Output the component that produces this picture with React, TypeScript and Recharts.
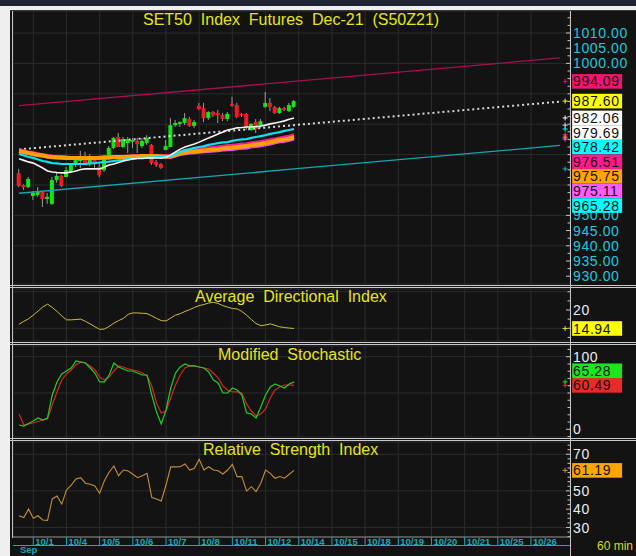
import React from 'react';
import { ComposedChart, Bar, Line, XAxis, YAxis, CartesianGrid, ReferenceDot } from 'recharts';

// ---------------- data ----------------
const dayLabels = ['10/1', '10/4', '10/5', '10/6', '10/7', '10/8', '10/11', '10/12', '10/14', '10/15', '10/18', '10/19', '10/20', '10/21', '10/25', '10/26'];
const monthLabel = 'Sep';
const intervalLabel = '60 min';
const mainTitle = 'SET50  Index  Futures  Dec-21  (S50Z21)';
const adxTitle = 'Average  Directional  Index';
const stochTitle = 'Modified  Stochastic';
const rsiTitle = 'Relative  Strength  Index';

const openP = [963.9, 960.0, 959.3, 956.4, 956.7, 957.7, 955.4, 953.8, 961.6, 963.0, 962.6, 964.3, 966.6, 967.9, 968.9, 967.2, 968.2, 966.0, 964.9, 969.2, 972.2, 975.8, 972.5, 973.8, 974.2, 974.5, 972.8, 973.8, 973.2, 967.6, 966.9, 971.5, 972.5, 979.7, 980.1, 980.4, 981.7, 979.4, 986.0, 985.3, 982.0, 984.0, 983.7, 983.0, 981.7, 986.7, 986.3, 983.4, 983.4, 978.1, 980.7, 979.7, 985.7, 987.0, 985.7, 983.7, 985.3, 984.3, 985.7];
const highP = [965.3, 960.2, 962.6, 958.0, 959.3, 958.0, 957.4, 962.6, 964.0, 963.3, 965.9, 967.2, 969.5, 971.2, 970.9, 970.2, 969.5, 967.2, 969.9, 972.8, 975.8, 977.1, 975.8, 975.8, 975.5, 975.5, 975.5, 976.4, 973.5, 968.2, 967.2, 974.8, 982.0, 981.4, 981.0, 983.7, 982.4, 981.4, 987.0, 987.0, 984.3, 984.3, 984.7, 983.7, 984.0, 989.0, 987.0, 983.7, 983.7, 980.4, 981.7, 981.7, 990.6, 988.6, 986.0, 985.7, 985.7, 987.0, 988.0];
const lowP = [959.3, 958.4, 959.0, 955.1, 956.1, 952.8, 953.8, 953.4, 960.7, 959.3, 962.6, 964.0, 965.9, 965.6, 966.6, 966.2, 965.6, 962.6, 964.3, 968.2, 971.8, 972.5, 972.2, 970.5, 972.2, 970.5, 972.2, 973.2, 966.6, 965.9, 965.3, 971.5, 972.5, 979.1, 979.1, 979.7, 979.1, 978.8, 984.7, 980.7, 981.4, 982.4, 980.4, 981.0, 981.0, 985.7, 982.0, 982.4, 978.1, 977.8, 977.1, 978.8, 985.3, 984.3, 983.4, 983.4, 984.3, 984.0, 985.3];
const closeP = [959.7, 959.3, 962.0, 957.4, 957.7, 955.4, 956.1, 961.6, 963.0, 959.7, 964.9, 966.6, 968.2, 969.2, 967.2, 968.5, 966.9, 963.3, 969.2, 972.2, 975.5, 972.5, 975.1, 975.1, 974.8, 973.5, 974.5, 975.5, 967.2, 966.6, 965.6, 972.8, 979.7, 980.4, 980.7, 982.0, 979.4, 980.7, 985.0, 982.0, 984.0, 983.0, 983.0, 981.7, 983.4, 986.0, 982.4, 983.0, 979.1, 980.1, 978.4, 981.0, 987.0, 985.7, 983.7, 985.3, 984.7, 986.3, 987.6];

const maWhite = [968.6, 968.1, 967.6, 967.2, 966.4, 965.6, 964.6, 964.3, 964.1, 964.0, 964.0, 964.3, 964.6, 965.1, 965.3, 965.3, 965.3, 965.3, 965.9, 966.6, 966.9, 967.4, 967.9, 968.2, 968.6, 968.7, 968.7, 968.9, 968.9, 968.9, 968.9, 969.1, 969.9, 970.9, 971.8, 972.5, 973.0, 973.5, 974.1, 974.8, 975.5, 976.1, 976.8, 977.4, 978.1, 978.4, 978.8, 978.9, 979.1, 979.1, 979.2, 979.4, 979.7, 980.1, 980.4, 980.7, 981.1, 981.6, 982.06];
const maCyan = [970.2, 969.7, 969.2, 968.9, 968.4, 967.9, 967.6, 967.2, 967.1, 966.9, 966.9, 966.9, 966.9, 966.9, 966.9, 967.1, 967.2, 967.4, 967.6, 967.7, 967.9, 968.1, 968.2, 968.6, 968.7, 968.9, 968.9, 969.0, 969.0, 969.2, 969.2, 969.2, 969.5, 970.2, 970.9, 971.5, 971.8, 972.2, 972.5, 972.8, 973.2, 973.5, 973.8, 974.0, 974.1, 974.5, 974.8, 975.0, 975.1, 975.5, 975.8, 976.1, 976.4, 976.8, 977.1, 977.4, 977.8, 978.1, 978.42];
const maPink = [971.5, 971.2, 970.8, 970.5, 970.2, 969.9, 969.6, 969.4, 969.3, 969.2, 969.1, 969.0, 969.0, 969.0, 969.0, 969.0, 969.0, 969.05, 969.1, 969.2, 969.3, 969.3, 969.3, 969.4, 969.5, 969.5, 969.6, 969.6, 969.6, 969.6, 969.5, 969.5, 969.7, 970.3, 970.8, 971.2, 971.4, 971.6, 971.8, 972.0, 972.2, 972.4, 972.5, 972.7, 972.9, 973.0, 973.2, 973.4, 973.5, 973.8, 974.0, 974.2, 974.5, 974.8, 975.1, 975.4, 975.7, 976.0, 976.51];
const maOrange = [971.2, 970.9, 970.5, 970.2, 969.9, 969.7, 969.4, 969.2, 969.1, 969.05, 968.95, 968.9, 968.9, 968.9, 968.9, 968.9, 968.9, 968.95, 969.05, 969.1, 969.2, 969.2, 969.2, 969.3, 969.4, 969.4, 969.5, 969.5, 969.5, 969.5, 969.4, 969.3, 969.4, 969.9, 970.4, 970.7, 970.9, 971.0, 971.2, 971.35, 971.5, 971.7, 971.8, 972.0, 972.2, 972.3, 972.5, 972.7, 972.8, 973.2, 973.3, 973.5, 973.8, 974.1, 974.5, 974.8, 975.0, 975.3, 975.75];
const maViolet = [970.9, 970.6, 970.3, 970.0, 969.7, 969.5, 969.2, 969.0, 968.9, 968.8, 968.7, 968.7, 968.7, 968.7, 968.7, 968.7, 968.7, 968.75, 968.8, 968.9, 969.0, 969.0, 969.0, 969.1, 969.2, 969.2, 969.3, 969.3, 969.3, 969.3, 969.2, 969.1, 969.1, 969.5, 970.0, 970.3, 970.5, 970.6, 970.8, 970.9, 971.0, 971.2, 971.3, 971.5, 971.6, 971.7, 971.9, 972.1, 972.2, 972.6, 972.7, 972.9, 973.2, 973.5, 973.9, 974.2, 974.4, 974.7, 975.11];

// regression channel: first bar, last bar, extension end
const channelBars = [0, 58, 114.1];
const channelUpper = [986.1, 994.09, 1001.82];
const channelMid = [971.7, 979.69, 987.42];
const channelLower = [957.29, 965.28, 973.01];

const adx = [16.1, 16.9, 17.6, 18.6, 19.7, 20.8, 21.6, 20.7, 19.6, 18.4, 17.3, 17.3, 17.4, 17.5, 16.9, 16.2, 15.4, 14.7, 14.8, 15.5, 16.4, 17.1, 17.7, 18.8, 19.2, 19.2, 19.1, 19.0, 18.4, 17.7, 17.1, 17.0, 17.8, 18.6, 19.0, 19.6, 20.1, 20.7, 21.2, 21.5, 21.9, 22.1, 21.8, 21.2, 20.8, 20.4, 20.3, 19.6, 18.6, 17.4, 16.3, 15.7, 15.9, 16.2, 15.8, 15.4, 15.2, 15.05, 14.94];
const stochK = [5.9, 4.5, 8.0, 11.4, 15.6, 12.8, 15.6, 47.2, 65.2, 76.2, 80.3, 84.4, 94.1, 92.7, 91.3, 84.4, 77.5, 65.2, 65.2, 74.8, 91.3, 85.8, 83.1, 80.3, 80.3, 77.5, 74.8, 74.8, 47.2, 23.8, 7.3, 26.6, 56.9, 77.5, 85.8, 89.9, 87.2, 87.2, 85.8, 84.4, 78.9, 67.9, 63.8, 50.0, 50.0, 56.9, 54.1, 47.2, 22.5, 21.1, 15.6, 30.7, 47.2, 58.3, 62.4, 59.6, 56.9, 62.4, 65.28];
const stochD = [21.1, 5.9, 7.3, 8.7, 10.7, 12.8, 14.2, 33.5, 51.4, 67.9, 76.2, 81.7, 88.6, 92.7, 91.3, 87.2, 81.7, 72.0, 67.9, 72.0, 80.3, 87.2, 85.8, 83.1, 81.7, 80.3, 77.5, 73.4, 59.6, 36.2, 22.5, 25.2, 43.1, 61.0, 74.8, 84.4, 87.2, 87.2, 85.8, 84.4, 83.1, 77.5, 70.7, 59.6, 54.1, 51.4, 51.4, 50.0, 34.9, 25.2, 18.3, 21.1, 28.0, 43.1, 54.1, 58.3, 61.0, 61.0, 60.49];
const rsi = [36.4, 35.4, 40.1, 35.0, 36.4, 34.1, 33.9, 45.6, 47.2, 42.8, 50.5, 53.2, 56.5, 57.2, 54.2, 53.6, 52.7, 48.7, 55.6, 60.2, 63.6, 58.3, 61.4, 60.9, 59.1, 57.2, 58.3, 59.6, 46.3, 45.6, 44.5, 53.2, 63.1, 63.1, 63.2, 64.7, 61.4, 62.3, 67.3, 61.4, 63.2, 61.4, 61.0, 59.2, 61.4, 64.5, 57.8, 57.8, 49.9, 52.3, 49.6, 54.2, 61.4, 59.6, 56.9, 57.8, 56.9, 59.1, 61.19];

const mainTickLabels = [1010, 1005, 1000, 995, 990, 985, 980, 975, 970, 965, 960, 955, 950, 945, 940, 935, 930];
const adxTickLabels = [20, 15];
const stochTickLabels = [100, 50, 0];
const rsiTickLabels = [70, 60, 50, 40, 30];

// ---------------- layout ----------------
const W = 636;
const H = 556;
const FONT = '"Liberation Sans", Arial, Helvetica, sans-serif';
const CYAN_TXT = '#1ec8dc';
const TEAL = '#1ea8b2';
const YEL = '#e6e614';
const X_DOMAIN: [number, number] = [-1.28, 116.23];
const BARS_PER_DAY = 7;
const FIRST_DAY_BAR = 3;
const dayTicks = dayLabels.map((_, k) => FIRST_DAY_BAR + BARS_PER_DAY * k);
const MARKER_X = 115.2;
const CHART_W = 626;
const AXIS_W = 66;
const BOX_H = 14.6;

const MAIN_DOMAIN: [number, number] = [927.43, 1017.24];
const ADX_DOMAIN: [number, number] = [11.52, 25.74];
const STOCH_DOMAIN: [number, number] = [-10.6, 114.7];
const RSI_DOMAIN: [number, number] = [24.8, 76.7];
const MAIN_PLOT_H = 273;
const ADX_PLOT_H = 52;
const STOCH_PLOT_H = 91;
const RSI_PLOT_H = 95;

const steps = (a: number, b: number, s: number) => {
  const out: number[] = [];
  for (let v = a; v <= b + 1e-9; v += s) out.push(Math.round(v * 100) / 100);
  return out;
};
const mainMinor = steps(930, 1015, 2.5);
const mainGrid = steps(930, 1010, 10);
const adxMinor = steps(12.5, 25, 2.5);
const adxGrid = [15, 20, 25];
const stochMinor = steps(-10, 110, 10);
const stochGrid = [0, 50, 100];
const rsiMinor = steps(25, 75, 2.5);
const rsiGrid = [30, 40, 50, 60, 70];

const rows = closeP.map((c, i) => ({
  i,
  o: openP[i],
  hi: highP[i],
  lo: lowP[i],
  c,
  range: [lowP[i], highP[i]],
  maW: maWhite[i],
  maC: maCyan[i],
  maP: maPink[i],
  maO: maOrange[i],
  maV: maViolet[i],
  adx: adx[i],
  k: stochK[i],
  d: stochD[i],
  rsi: rsi[i],
}));
const channelRows = channelBars.map((b, j) => ({ i: b, up: channelUpper[j], mid: channelMid[j], lo: channelLower[j] }));

type Lab = { v: number; bg: string; mark: string; off?: number };
const ppuOf = (d: [number, number], h: number) => h / (d[1] - d[0]);
const stack = (items: Lab[], ppu: number, dir: 'down' | 'up') => {
  const gapV = BOX_H / ppu;
  const sorted = [...items].sort((a, b) => (dir === 'down' ? b.v - a.v : a.v - b.v));
  let prev: number | null = null;
  return sorted.map((it) => {
    let placed = it.v;
    if (prev !== null) placed = dir === 'down' ? Math.min(it.v, prev - gapV) : Math.max(it.v, prev + gapV);
    prev = placed;
    return { ...it, off: (it.v - placed) * ppu };
  });
};
// tick labels that sit under a value box are not drawn (they are covered in the original)
const uncovered = (labels: number[], boxes: Lab[], ppu: number) =>
  labels.filter((l) => boxes.every((b) => Math.abs((b.v - l) * ppu - (b.off || 0)) >= BOX_H / 2 + 2.5));

const last = (a: number[]) => a[a.length - 1];
const mainLabels = stack(
  [
    { v: channelUpper[1], bg: '#f0146e', mark: '#d0106a' },
    { v: last(closeP), bg: '#ffff00', mark: '#ffff00' },
    { v: last(maWhite), bg: '#ffffff', mark: '#ffffff' },
    { v: channelMid[1], bg: '#ffffff', mark: '#dddddd' },
    { v: last(maCyan), bg: '#00ffff', mark: '#00ffff' },
    { v: last(maPink), bg: '#ff1a8c', mark: '#ff1a8c' },
    { v: last(maOrange), bg: '#ffa500', mark: '#ffa500' },
    { v: last(maViolet), bg: '#ff5cff', mark: '#ff5cff' },
    { v: channelLower[1], bg: '#00ffff', mark: '#19b4c0' },
  ],
  ppuOf(MAIN_DOMAIN, MAIN_PLOT_H),
  'down'
);
const adxLabels = stack([{ v: last(adx), bg: '#ffff00', mark: '#e0e040' }], ppuOf(ADX_DOMAIN, ADX_PLOT_H), 'down');
const stochLabels = stack(
  [
    { v: last(stochK), bg: '#1ee61e', mark: '#22dd22' },
    { v: last(stochD), bg: '#e82a2a', mark: '#e82a2a' },
  ],
  ppuOf(STOCH_DOMAIN, STOCH_PLOT_H),
  'up'
);
const rsiLabels = stack([{ v: last(rsi), bg: '#ffa500', mark: '#e09030' }], ppuOf(RSI_DOMAIN, RSI_PLOT_H), 'down');

const mainShown = uncovered(mainTickLabels, mainLabels, ppuOf(MAIN_DOMAIN, MAIN_PLOT_H));
const adxShown = uncovered(adxTickLabels, adxLabels, ppuOf(ADX_DOMAIN, ADX_PLOT_H));
const stochShown = uncovered(stochTickLabels, stochLabels, ppuOf(STOCH_DOMAIN, STOCH_PLOT_H));
const rsiShown = uncovered(rsiTickLabels, rsiLabels, ppuOf(RSI_DOMAIN, RSI_PLOT_H));

// ---------------- renderers ----------------
const Candle = (props: any) => {
  const { x, y, width, height, payload } = props;
  if (!payload || !isFinite(y) || !isFinite(height)) return null;
  let top = y;
  let h = height;
  if (h < 0) {
    top = y + h;
    h = -h;
  }
  const span = payload.hi - payload.lo;
  const yOf = (v: number) => (span > 0 ? top + ((payload.hi - v) / span) * h : top);
  const cx = x + width / 2;
  const bt = yOf(Math.max(payload.o, payload.c));
  const bb = yOf(Math.min(payload.o, payload.c));
  const up = payload.c >= payload.o;
  return (
    <g>
      <line x1={cx} x2={cx} y1={top} y2={top + h} stroke="#9a9a9a" strokeWidth={1} />
      <rect x={x} y={bt} width={width} height={Math.max(1.2, bb - bt)} fill={up ? '#14e614' : '#ee1c24'} />
    </g>
  );
};

const rightTick = (labels: number[], color: string, decimals: number) => (props: any) => {
  const { x, y, payload } = props;
  const v = payload.value;
  const isLab = labels.some((l) => Math.abs(l - v) < 1e-6);
  const ax = x - 3;
  return (
    <g>
      <line x1={ax} x2={ax - (isLab ? 4 : 2.5)} y1={y} y2={y} stroke="#c4c4c4" />
      {isLab && (
        <text x={x} y={y} dy="0.36em" fill={color} fontSize={14} fontFamily={FONT} letterSpacing={0.6}>
          {v.toFixed(decimals)}
        </text>
      )}
    </g>
  );
};

const leftTick = (props: any) => {
  const { x, y } = props;
  return <line x1={x} x2={x + 3} y1={y} y2={y} stroke="#c4c4c4" />;
};

const bottomTick = (props: any) => {
  const { x, y, index } = props;
  return (
    <g>
      <line x1={x} x2={x} y1={y} y2={y + 9} stroke={TEAL} />
      <text x={x + 2} y={y + 7.6} fontSize={9.5} fontWeight={700} fill={TEAL} fontFamily={FONT}>
        {dayLabels[index]}
      </text>
    </g>
  );
};

const marker = (lab: Lab, text: string) => (props: any) => {
  const { cx, cy } = props;
  const by = cy + (lab.off || 0);
  return (
    <g>
      <line x1={cx - 2.5} x2={cx + 2.5} y1={cy} y2={cy} stroke={lab.mark} />
      <line x1={cx} x2={cx} y1={cy - 2.5} y2={cy + 2.5} stroke={lab.mark} />
      <rect x={cx + 7} y={by - BOX_H / 2} width={50} height={BOX_H} fill={lab.bg} />
      <text x={cx + 8} y={by} dy="0.36em" fontSize={14} fontFamily={FONT} letterSpacing={0.6} fill="#111">
        {text}
      </text>
    </g>
  );
};

const axesFor = (domain: [number, number], minor: number[], grid: number[], labels: number[], color: string, decimals: number) => [
  <YAxis key="g" yAxisId="g" domain={domain} ticks={grid} hide allowDataOverflow />,
  <CartesianGrid key="grid" yAxisId="g" stroke="#2c2c2c" />,
  <YAxis
    key="r"
    orientation="right"
    width={AXIS_W}
    domain={domain}
    ticks={minor}
    interval={0}
    tickSize={0}
    tickMargin={3}
    axisLine={false}
    tickLine={false}
    tick={rightTick(labels, color, decimals)}
    allowDataOverflow
  />,
  <YAxis
    key="l"
    yAxisId="l"
    orientation="left"
    width={0}
    domain={domain}
    ticks={minor}
    interval={0}
    tickSize={0}
    tickMargin={0}
    axisLine={false}
    tickLine={false}
    tick={leftTick}
    allowDataOverflow
  />,
];

const dots = (labs: any[], fmt: (v: number) => string) =>
  labs.map((lab, j) => (
    <ReferenceDot key={'rd' + j} x={MARKER_X} y={lab.v} r={0} ifOverflow="visible" zIndex={3000} shape={marker(lab, fmt(lab.v))} />
  ));

const lineProps = { type: 'linear' as const, dot: false, activeDot: false, isAnimationActive: false };

export default function App() {
  return (
    <div style={{ position: 'fixed', left: 0, top: 0, width: W, height: H, background: '#efefef', overflow: 'hidden' }}>
      <div style={{ position: 'absolute', left: 0, top: 0, width: W, height: 6, background: '#1e2434' }} />
      <div style={{ position: 'absolute', left: 10, top: 10, width: W - 10, height: H - 10, background: '#131313' }} />

      {/* main price panel */}
      <div style={{ position: 'absolute', left: 10, top: 10 }}>
        <ComposedChart width={CHART_W} height={MAIN_PLOT_H + 2} data={rows} margin={{ top: 1, right: 0, bottom: 1, left: 3 }}>
          <XAxis dataKey="i" type="number" domain={X_DOMAIN} ticks={dayTicks} hide allowDataOverflow />
          {axesFor(MAIN_DOMAIN, mainMinor, mainGrid, mainShown, CYAN_TXT, 2)}
          <Line data={channelRows} dataKey="up" stroke="#a8104e" strokeWidth={1.3} {...lineProps} />
          <Line data={channelRows} dataKey="lo" stroke="#14a6b2" strokeWidth={1.3} {...lineProps} />
          <Line data={channelRows} dataKey="mid" stroke="#d8d8d8" strokeWidth={2} strokeDasharray="2 3" {...lineProps} />
          <Bar dataKey="range" barSize={4} shape={Candle} isAnimationActive={false} />
          <Line dataKey="maV" stroke="#f050f0" strokeWidth={3} {...lineProps} />
          <Line dataKey="maP" stroke="#ff1a8c" strokeWidth={3.5} {...lineProps} />
          <Line dataKey="maO" stroke="#ffa000" strokeWidth={4} {...lineProps} />
          <Line dataKey="maC" stroke="#10e0f0" strokeWidth={2.2} {...lineProps} />
          <Line dataKey="maW" stroke="#f4f4f4" strokeWidth={1.6} {...lineProps} />
          {dots(mainLabels, (v) => v.toFixed(2))}
        </ComposedChart>
      </div>

      {/* ADX panel */}
      <div style={{ position: 'absolute', left: 10, top: 288 }}>
        <ComposedChart width={CHART_W} height={ADX_PLOT_H + 2} data={rows} margin={{ top: 1, right: 0, bottom: 1, left: 3 }}>
          <XAxis dataKey="i" type="number" domain={X_DOMAIN} ticks={dayTicks} hide allowDataOverflow />
          {axesFor(ADX_DOMAIN, adxMinor, adxGrid, adxShown, '#ececec', 0)}
          <Line dataKey="adx" stroke="#c8be3c" strokeWidth={1} {...lineProps} />
          {dots(adxLabels, (v) => v.toFixed(2))}
        </ComposedChart>
      </div>

      {/* Stochastic panel */}
      <div style={{ position: 'absolute', left: 10, top: 345 }}>
        <ComposedChart width={CHART_W} height={STOCH_PLOT_H + 2} data={rows} margin={{ top: 1, right: 0, bottom: 1, left: 3 }}>
          <XAxis dataKey="i" type="number" domain={X_DOMAIN} ticks={dayTicks} hide allowDataOverflow />
          {axesFor(STOCH_DOMAIN, stochMinor, stochGrid, stochShown, '#ececec', 0)}
          <Line dataKey="d" stroke="#d42424" strokeWidth={1.2} {...lineProps} />
          <Line dataKey="k" stroke="#24cc24" strokeWidth={1.2} {...lineProps} />
          {dots(stochLabels, (v) => v.toFixed(2))}
        </ComposedChart>
      </div>

      {/* RSI panel + time axis */}
      <div style={{ position: 'absolute', left: 10, top: 441 }}>
        <ComposedChart width={CHART_W} height={RSI_PLOT_H + 20} data={rows} margin={{ top: 1, right: 0, bottom: 0, left: 3 }}>
          <XAxis
            dataKey="i"
            type="number"
            domain={X_DOMAIN}
            ticks={dayTicks}
            interval={0}
            height={19}
            tickSize={0}
            tickMargin={0}
            tickLine={false}
            axisLine={{ stroke: '#8c8c8c' }}
            tick={bottomTick}
            allowDataOverflow
          />
          {axesFor(RSI_DOMAIN, rsiMinor, rsiGrid, rsiShown, '#ececec', 0)}
          <Line dataKey="rsi" stroke="#c48e38" strokeWidth={1.1} {...lineProps} />
          {dots(rsiLabels, (v) => v.toFixed(2))}
        </ComposedChart>
      </div>

      {/* frame, separators and titles */}
      <svg width={W} height={H} style={{ position: 'absolute', left: 0, top: 0, pointerEvents: 'none' }}>
        <line x1={10} x2={W} y1={10.5} y2={10.5} stroke="#3a3a3a" />
        {[285, 342, 438].map((s) => (
          <g key={s}>
            <line x1={10} x2={W} y1={s + 0.5} y2={s + 0.5} stroke="#c9c9c9" />
            <line x1={10} x2={W} y1={s + 2.5} y2={s + 2.5} stroke="#c9c9c9" />
          </g>
        ))}
        <line x1={12.5} x2={12.5} y1={11} y2={538} stroke="#c4c4c4" />
        <line x1={570.5} x2={570.5} y1={11} y2={H} stroke="#c4c4c4" />
        <line x1={13} x2={570} y1={545.5} y2={545.5} stroke={TEAL} />
        <text x={143} y={25} fill={YEL} fontSize={16} fontFamily={FONT} style={{ whiteSpace: 'pre' }}>
          {mainTitle}
        </text>
        <text x={195} y={302} fill={YEL} fontSize={16} fontFamily={FONT} style={{ whiteSpace: 'pre' }}>
          {adxTitle}
        </text>
        <text x={218} y={360} fill={YEL} fontSize={16} fontFamily={FONT} style={{ whiteSpace: 'pre' }}>
          {stochTitle}
        </text>
        <text x={203} y={455} fill={YEL} fontSize={16} fontFamily={FONT} style={{ whiteSpace: 'pre' }}>
          {rsiTitle}
        </text>
        <text x={20} y={553} fill={TEAL} fontSize={9.5} fontWeight={700} fontFamily={FONT}>
          {monthLabel}
        </text>
        <text x={597} y={550} fill="#d8d820" fontSize={12} fontFamily={FONT}>
          {intervalLabel}
        </text>
      </svg>
    </div>
  );
}
